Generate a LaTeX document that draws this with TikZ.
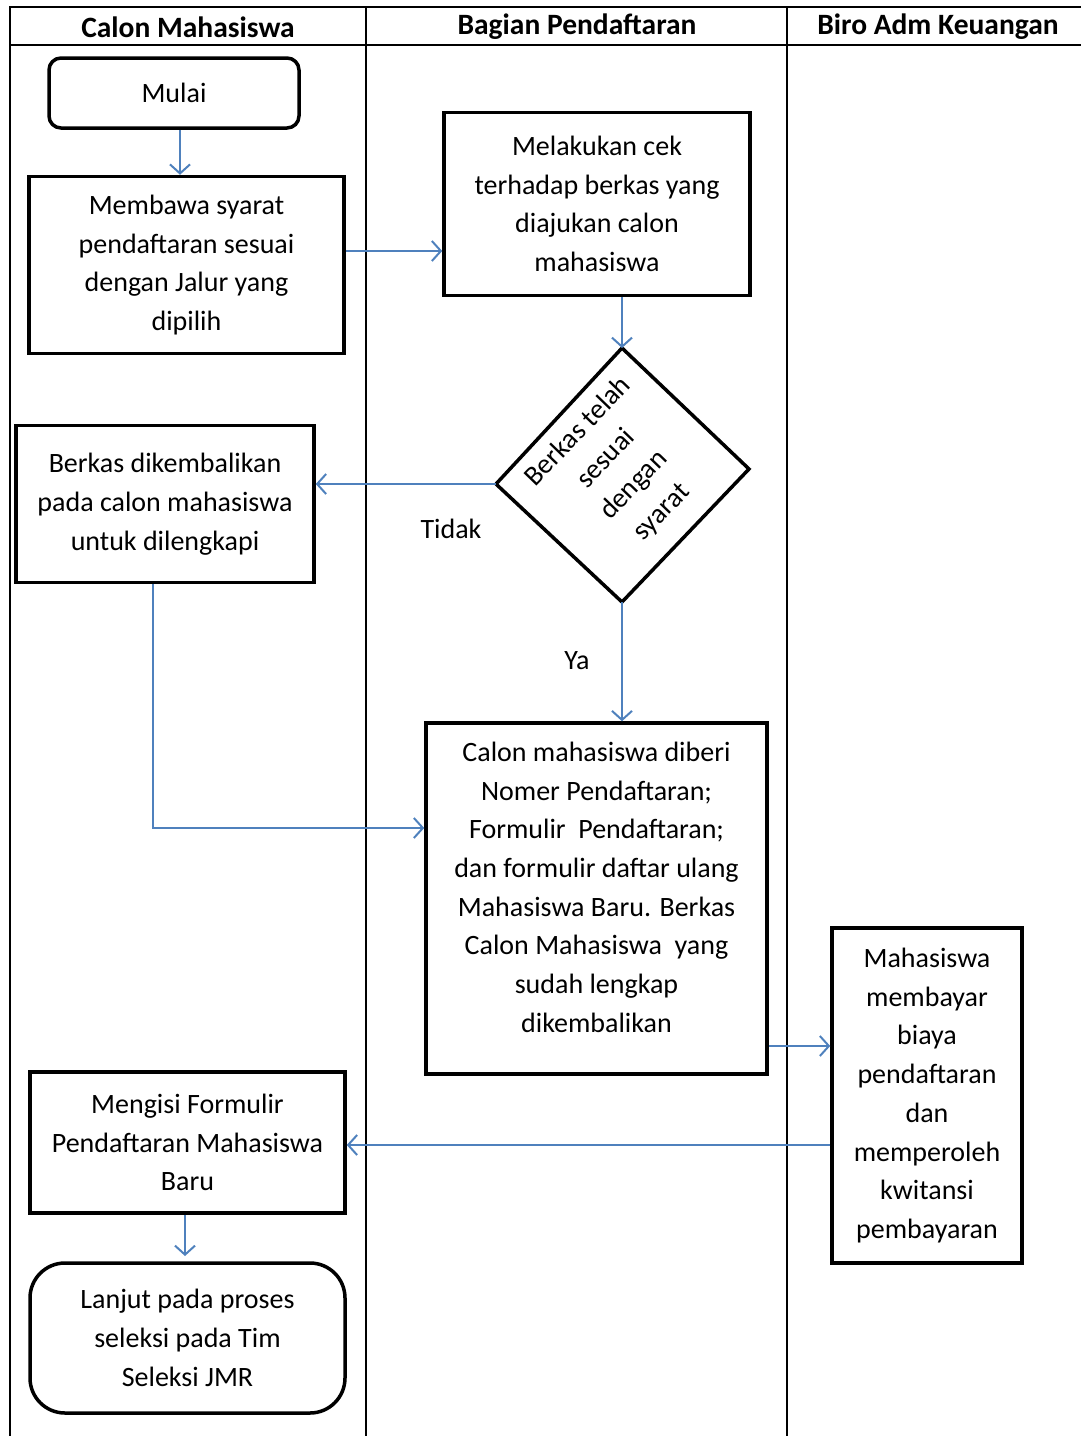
\documentclass[tikz,border=0pt]{standalone}
\usepackage{fontspec}
\setmainfont{Carlito}
\usetikzlibrary{arrows.meta}
\definecolor{arrowblue}{RGB}{79,129,189}
\begin{document}
\begin{tikzpicture}[x=1pt,y=-1pt,
  box/.style={draw=black,line width=3.5pt,inner sep=0pt,align=center,font=\fontsize{28}{38.7}\selectfont},
  rbox/.style={box,rounded corners=#1},
  lbl/.style={inner sep=0pt,font=\fontsize{28}{38.7}\selectfont},
  hdr/.style={inner sep=0pt,font=\fontsize{29.5}{34}\selectfont\bfseries},
  flow/.style={draw=arrowblue,line width=2pt,-{Straight Barb[length=9pt,width=20pt,line width=2pt]}},
  grid/.style={line width=1.8pt,draw=black}]
\useasboundingbox (0,0) rectangle (1081,1436);
% table
\draw[grid] (1081,7) -- (10,7) -- (10,1436);
\draw[grid] (10,45) -- (1081,45);
\draw[grid] (366,7) -- (366,1436);
\draw[grid] (787,7) -- (787,1436);
\node[hdr] (h1) at (188,27) {Calon Mahasiswa};
\node[hdr] (h2) at (577,27) {Bagian Pendaftaran};
\node[hdr] (h3) at (938,27) {Biro Adm Keuangan};
% nodes
\node[rbox=12pt,minimum width=250pt,minimum height=70pt] (mulai) at (174,93) {Mulai};
\node[box,minimum width=315pt,minimum height=177pt] (bawa) at (186.5,265) {Membawa syarat\\pendaftaran sesuai\\dengan Jalur yang\\dipilih};
\node[box,minimum width=306pt,minimum height=183pt] (cek) at (597,204) {Melakukan cek\\terhadap berkas yang\\diajukan calon\\mahasiswa};
\coordinate (dtop) at (622,348);
\coordinate (dleft) at (496,484);
\coordinate (dright) at (749,469);
\coordinate (dbot) at (622,602);
\draw[line width=3.5pt,line join=miter] (dtop) -- (dright) -- (dbot) -- (dleft) -- cycle;
\node[lbl,rotate=46,align=center] (dtext) at (620,472) {Berkas telah\\sesuai\\dengan\\syarat};
\node[box,minimum width=298pt,minimum height=157pt] (kembali) at (165,504) {Berkas dikembalikan\\pada calon mahasiswa\\untuk dilengkapi};
\node[box,minimum width=341pt,minimum height=351pt] (nomer) at (596.5,898.5) {Calon mahasiswa diberi\\Nomer Pendaftaran;\\Formulir\ \ Pendaftaran;\\dan formulir daftar ulang\\Mahasiswa Baru. Berkas\\Calon Mahasiswa\ \ yang\\sudah lengkap\\dikembalikan\\[-16pt]\mbox{}};
\node[box,minimum width=190pt,minimum height=335pt] (bayar) at (927,1095.5) {Mahasiswa\\membayar\\biaya\\pendaftaran\\dan\\memperoleh\\kwitansi\\pembayaran};
\node[box,minimum width=315pt,minimum height=141pt] (isi) at (187.5,1142.5) {Mengisi Formulir\\Pendaftaran Mahasiswa\\Baru};
\node[rbox=35pt,minimum width=315pt,minimum height=150pt] (lanjut) at (187.5,1338) {Lanjut pada proses\\seleksi pada Tim\\Seleksi JMR};
% connectors
\draw[flow] (mulai.south -| 180,0) -- (bawa.north -| 180,0);
\draw[flow] (bawa.east |- 0,251) -- (cek.west |- 0,251);
\draw[flow] (cek.south -| 622,0) -- (dtop);
\draw[flow] (dleft) -- (kembali.east |- dleft);
\node[lbl] (tidak) at (451,529) {Tidak};
\draw[flow] (dbot) -- (nomer.north -| dbot);
\node[lbl] (ya) at (577,661) {Ya};
\draw[flow] (kembali.south -| 153,0) -- (153,828) -- (nomer.west |- 0,828);
\draw[flow] (nomer.east |- 0,1046) -- (bayar.west |- 0,1046);
\draw[flow] (bayar.west |- 0,1145) -- (isi.east |- 0,1145);
\draw[flow] (isi.south -| 185,0) -- (185,1256);
\end{tikzpicture}
\end{document}
